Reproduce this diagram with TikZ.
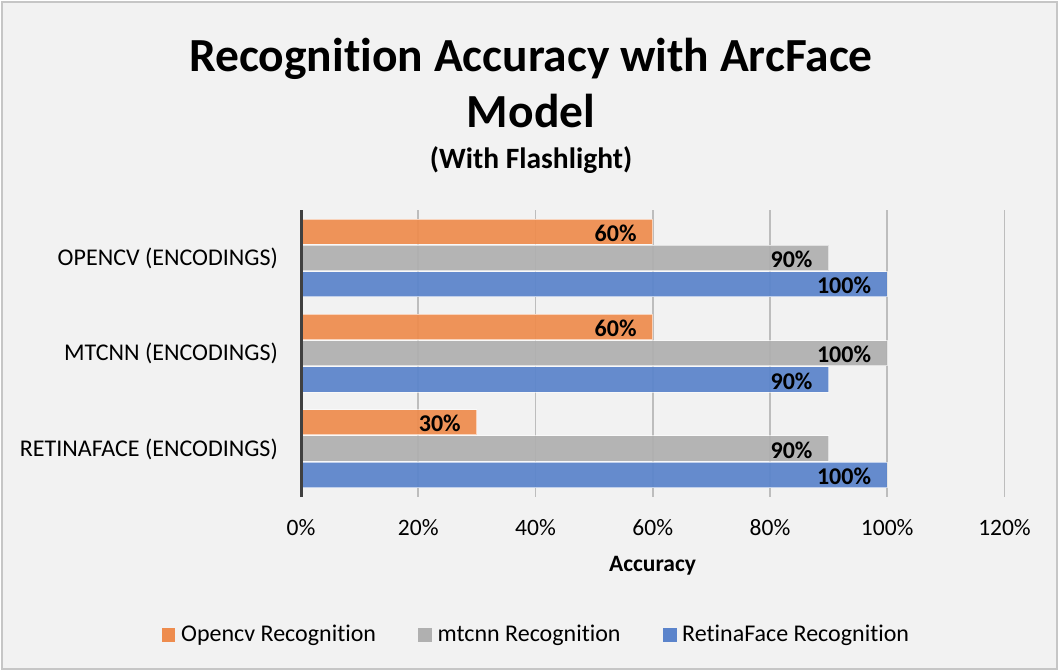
\documentclass[tikz,border=0pt]{standalone}
\usepackage{fontspec}
\setmainfont{Carlito}[Ligatures=CommonOff]
\definecolor{chartbg}{HTML}{F2F2F2}
\definecolor{frame}{HTML}{C6C6C6}
\definecolor{gridc}{HTML}{BDBDBD}
\definecolor{axisc}{HTML}{404040}
\definecolor{ocv}{HTML}{EE8C4E}
\definecolor{mtc}{HTML}{B0B0B0}
\definecolor{rtf}{HTML}{5B84CB}
\tikzset{
  bar/.style={draw=white, draw opacity=0.6, line width=1pt, fill opacity=0.93},
  gridline/.style={draw=gridc, line width=1.6pt},
  vallabel/.style={font=\fontsize{24}{28}\selectfont\bfseries, anchor=east, inner sep=0pt},
  catlabel/.style={font=\fontsize{24}{28}\selectfont, anchor=east, inner sep=0pt},
  ticklabel/.style={font=\fontsize{23.5}{28}\selectfont, anchor=center, inner sep=0pt},
  legtext/.style={font=\fontsize{24}{28}\selectfont, anchor=west, inner sep=0pt},
}
\begin{document}
\begin{tikzpicture}[x=1pt,y=-1pt]
\useasboundingbox (0,0) rectangle (1059,671);
% chart frame
\draw[fill=chartbg, draw=frame, line width=1.5pt] (2,2) rectangle (1057,669);

% title
\node[font=\fontsize{47.5}{56}\selectfont\bfseries, align=center, inner sep=0pt] (title) at (531,83)
  {Recognition Accuracy with ArcFace\\Model};
\node[font=\fontsize{29.5}{34}\selectfont\bfseries, inner sep=0pt, anchor=base] (subtitle) at (531,168) {(With Flashlight)};

% vertical gridlines: 0% at x=301, 20% per 117.25
\foreach \i in {1,...,6} {
  \draw[gridline] (301+117.25*\i,210) -- (301+117.25*\i,497);
}
% tick labels
\foreach \i/\t in {0/0\%,1/20\%,2/40\%,3/60\%,4/80\%,5/100\%,6/120\%} {
  \node[ticklabel] (tick\i) at (301+117.25*\i,528) {\t};
}
\node[font=\fontsize{23.5}{28}\selectfont\bfseries, inner sep=0pt] (xtitle) at (652.5,565.5) {Accuracy};

% bars: value in percent, group top y
\def\bh{25.3}
\foreach \g/\gy/\a/\b/\c in {1/219/60/90/100, 2/314.3/60/100/90, 3/409.6/30/90/100} {
  \path[bar, fill=ocv] (302,\gy) rectangle (301+5.8625*\a,\gy+\bh);
  \node[vallabel] (o\g) at (301+5.8625*\a-16,\gy+\bh/2+1.5) {\a\%};
  \path[bar, fill=mtc] (302,\gy+26.3) rectangle (301+5.8625*\b,\gy+26.3+\bh);
  \node[vallabel] (m\g) at (301+5.8625*\b-16,\gy+26.3+\bh/2+1.5) {\b\%};
  \path[bar, fill=rtf] (302,\gy+52.6) rectangle (301+5.8625*\c,\gy+52.6+\bh);
  \node[vallabel] (r\g) at (301+5.8625*\c-16,\gy+52.6+\bh/2+1.5) {\c\%};
}

% category axis
\draw[draw=axisc, line width=3pt] (301,210) -- (301,497);
\node[catlabel] (cat1) at (278,258) {OPENCV (ENCODINGS)};
\node[catlabel] (cat2) at (278,353.5) {MTCNN (ENCODINGS)};
\node[catlabel] (cat3) at (278,449) {RETINAFACE (ENCODINGS)};

% legend
\fill[ocv] (161.5,628) rectangle (175,642);
\node[legtext] (leg1) at (181,635) {Opencv Recognition};
\fill[mtc] (418,628) rectangle (431.5,642);
\node[legtext] (leg2) at (437.5,635) {mtcnn Recognition};
\fill[rtf] (663,628) rectangle (676.5,642);
\node[legtext] (leg3) at (682,635) {RetinaFace Recognition};
\end{tikzpicture}
\end{document}
